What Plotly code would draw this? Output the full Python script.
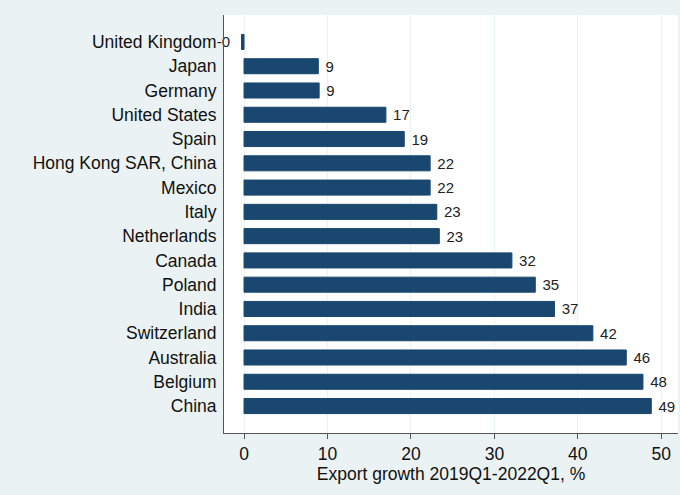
import plotly.graph_objects as go

countries = ["United Kingdom", "Japan", "Germany", "United States", "Spain",
             "Hong Kong SAR, China", "Mexico", "Italy", "Netherlands", "Canada",
             "Poland", "India", "Switzerland", "Australia", "Belgium", "China"]
growth = [-0.3, 8.9, 9.0, 17.0, 19.2, 22.3, 22.3, 23.1, 23.4, 32.1,
          34.9, 37.2, 41.8, 45.8, 47.8, 48.8]
labels = ["-0", "9", "9", "17", "19", "22", "22", "23", "23", "32",
          "35", "37", "42", "46", "48", "49"]

# pad labels away from the bar end (leading space for positive, trailing for negative)
padded = [(l + "  ") if v < 0 else (" " + l) for l, v in zip(labels, growth)]

fig = go.Figure()
fig.add_trace(go.Bar(
    y=countries, x=growth, orientation="h",
    marker=dict(color="#1A476F", line=dict(color="#1A476F", width=1)),
    width=0.62,
    text=padded, textposition="outside", cliponaxis=False,
    textfont=dict(family="Liberation Sans, Arial", size=15, color="#222222"),
))

fig.update_layout(
    width=680, height=495,
    margin=dict(l=224, r=2, t=15, b=62),
    paper_bgcolor="#EAF2F3", plot_bgcolor="#FFFFFF",
    font=dict(family="Liberation Sans, Arial", size=17.5, color="#111111"),
    showlegend=False,
    xaxis=dict(
        range=[-2.4, 52], tickvals=[0, 10, 20, 30, 40, 50],
        showgrid=True, gridcolor="#EAF2F3", gridwidth=1, zeroline=False,
        ticks="outside", ticklen=5, tickcolor="#555555",
        showline=True, linecolor="#555555", linewidth=1,
        title=dict(text="Export growth 2019Q1-2022Q1, %", standoff=0,
                   font=dict(size=17.5)),
        tickfont=dict(size=17.5),
    ),
    yaxis=dict(
        autorange=False, range=[16.11, -1.11],
        showgrid=False, zeroline=False, ticks="",
        showline=True, linecolor="#555555", linewidth=1,
        ticklabelstandoff=3, tickfont=dict(size=17.5),
    ),
    uniformtext=dict(minsize=15, mode="show"),
)

fig.write_html("out.html")
